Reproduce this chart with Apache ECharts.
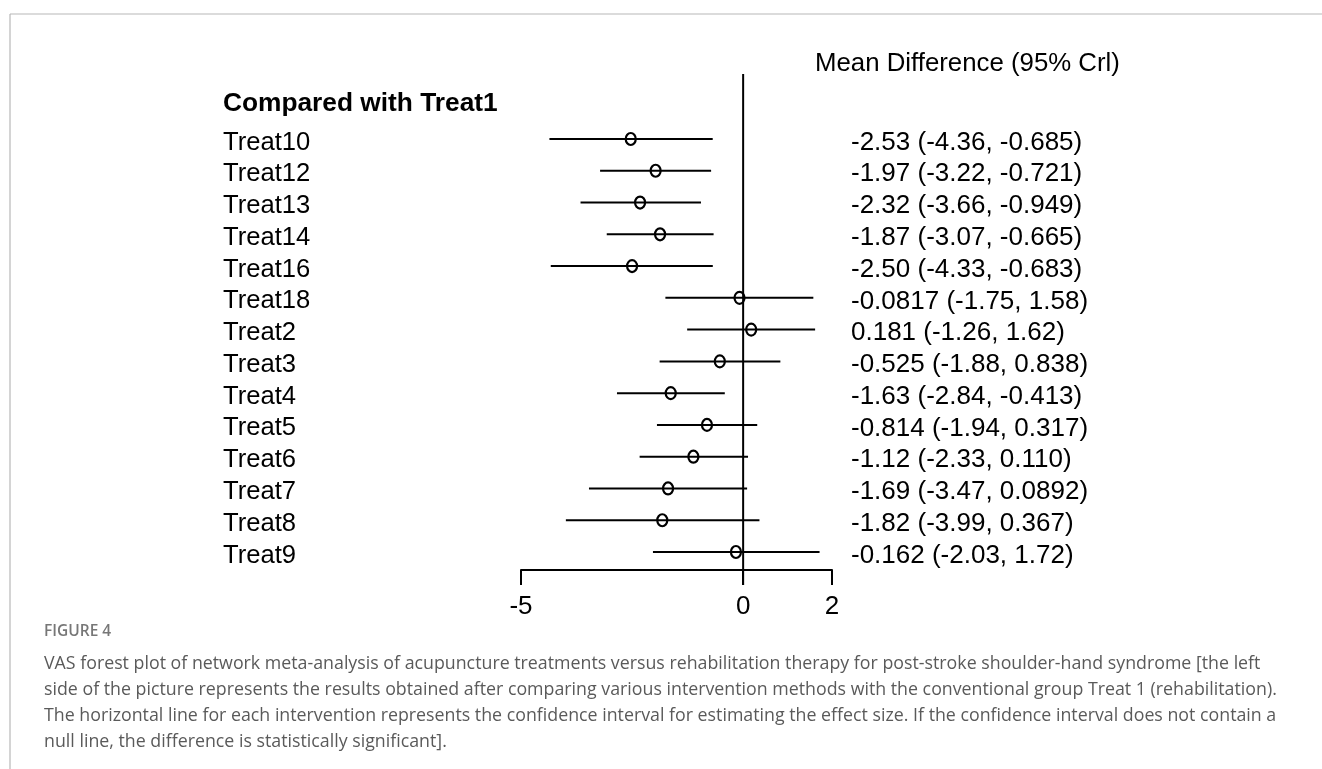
<!DOCTYPE html>
<html>
<head>
<meta charset="utf-8">
<script src="https://cdn.jsdelivr.net/npm/echarts@6/dist/echarts.min.js"></script>
<style>
html,body{margin:0;padding:0;background:#fff;}
#chart{width:1322px;height:769px;}
</style>
</head>
<body>
<div id="chart"></div>
<script>
// ---- data ----
const treatments = ['Treat10','Treat12','Treat13','Treat14','Treat16','Treat18','Treat2','Treat3','Treat4','Treat5','Treat6','Treat7','Treat8','Treat9'];
const means  = [-2.53, -1.97, -2.32, -1.87, -2.50, -0.0817, 0.181, -0.525, -1.63, -0.814, -1.12, -1.69, -1.82, -0.162];
const lowers = [-4.36, -3.22, -3.66, -3.07, -4.33, -1.75, -1.26, -1.88, -2.84, -1.94, -2.33, -3.47, -3.99, -2.03];
const uppers = [-0.685, -0.721, -0.949, -0.665, -0.683, 1.58, 1.62, 0.838, -0.413, 0.317, 0.110, 0.0892, 0.367, 1.72];
const ciLabels = [
  '-2.53 (-4.36, -0.685)', '-1.97 (-3.22, -0.721)', '-2.32 (-3.66, -0.949)', '-1.87 (-3.07, -0.665)',
  '-2.50 (-4.33, -0.683)', '-0.0817 (-1.75, 1.58)', '0.181 (-1.26, 1.62)', '-0.525 (-1.88, 0.838)',
  '-1.63 (-2.84, -0.413)', '-0.814 (-1.94, 0.317)', '-1.12 (-2.33, 0.110)', '-1.69 (-3.47, 0.0892)',
  '-1.82 (-3.99, 0.367)', '-0.162 (-2.03, 1.72)'
];
const xTicks = [-5, 0, 2];
const nullValue = 0;
const groupTitle = 'Compared with Treat1';
const colTitle = 'Mean Difference (95% Crl)';
const figLabel = 'FIGURE 4';
const captionLines = [
  'VAS forest plot of network meta-analysis of acupuncture treatments versus rehabilitation therapy for post-stroke shoulder-hand syndrome [the left',
  'side of the picture represents the results obtained after comparing various intervention methods with the conventional group Treat 1 (rehabilitation).',
  'The horizontal line for each intervention represents the confidence interval for estimating the effect size. If the confidence interval does not contain a',
  'null line, the difference is statistically significant].'
];

// ---- chart ----
const FONT = '"Liberation Sans", Arial, sans-serif';
const CAPFONT = '"Open Sans", "Noto Sans", sans-serif';
const chart = echarts.init(document.getElementById('chart'), null, {renderer: 'canvas'});

const ciData = treatments.map((t, i) => [i, lowers[i], uppers[i], means[i]]);

const captionGraphics = [
  {type: 'text', left: 44, top: 624, style: {text: figLabel, font: '600 15.5px ' + CAPFONT, fill: '#777'}}
].concat(captionLines.map((line, i) => ({
  type: 'text', left: 44, top: 655 + i * 26,
  style: {text: line, font: '17.8px ' + CAPFONT, fill: '#5a5a5a'}
})));

const shiftRich = (size) => ({t: {fontSize: size, fontFamily: FONT, color: '#000', padding: [7, 0, 0, 0]}});

chart.setOption({
  backgroundColor: '#fff',
  animation: false,
  grid: {left: 521, right: 490, top: 139, height: 413, containLabel: false},
  xAxis: {
    type: 'value', min: -5, max: 2, position: 'bottom', offset: 18,
    axisLine: {show: true, onZero: false, lineStyle: {color: '#000', width: 2}},
    axisTick: {show: true, length: 15, customValues: xTicks, lineStyle: {color: '#000', width: 2}},
    axisLabel: {customValues: xTicks, fontSize: 26, fontFamily: FONT, color: '#000', margin: 24,
      formatter: v => String(v)},
    splitLine: {show: false}
  },
  yAxis: [{
    type: 'category', data: treatments, inverse: true, boundaryGap: false,
    axisLine: {show: false}, axisTick: {show: false}, splitLine: {show: false},
    axisLabel: {align: 'left', margin: 298, interval: 0,
      formatter: v => '{t|' + v + '}', rich: shiftRich(25.6)}
  }, {
    type: 'category', data: ciLabels, inverse: true, boundaryGap: false, position: 'right',
    axisLine: {show: false}, axisTick: {show: false}, splitLine: {show: false},
    axisLabel: {align: 'left', margin: 19, interval: 0,
      formatter: v => '{t|' + v + '}', rich: shiftRich(26)}
  }],
  series: [{
    type: 'custom',
    data: [[nullValue]],
    renderItem: function (params, api) {
      const top = api.coord([api.value(0), 0]);
      const bot = api.coord([api.value(0), treatments.length - 1]);
      return {type: 'line', shape: {x1: top[0], y1: top[1] - 65, x2: bot[0], y2: bot[1] + 33},
        style: {stroke: '#000', lineWidth: 2}};
    },
    silent: true
  }, {
    type: 'custom',
    data: ciData,
    encode: {x: [1, 2, 3], y: 0},
    renderItem: function (params, api) {
      const lo = api.coord([api.value(1), api.value(0)]);
      const hi = api.coord([api.value(2), api.value(0)]);
      const m = api.coord([api.value(3), api.value(0)]);
      return {type: 'group', children: [
        {type: 'line', shape: {x1: lo[0], y1: lo[1], x2: hi[0], y2: hi[1]}, style: {stroke: '#000', lineWidth: 2}},
        {type: 'ellipse', shape: {cx: m[0], cy: m[1], rx: 5, ry: 6}, style: {stroke: '#000', fill: null, lineWidth: 2.2}}
      ]};
    },
    silent: true
  }],
  graphic: [
    {type: 'line', shape: {x1: 10, y1: 14, x2: 1322, y2: 14}, style: {stroke: '#b8b8b8', lineWidth: 1.2}},
    {type: 'line', shape: {x1: 10, y1: 14, x2: 10, y2: 769}, style: {stroke: '#b8b8b8', lineWidth: 1.2}},
    {type: 'text', left: 223, top: 91, style: {text: groupTitle, font: 'bold 26.3px ' + FONT, fill: '#000'}},
    {type: 'text', left: 815, top: 51, style: {text: colTitle, font: '25.8px ' + FONT, fill: '#000'}}
  ].concat(captionGraphics)
});
</script>
</body>
</html>
